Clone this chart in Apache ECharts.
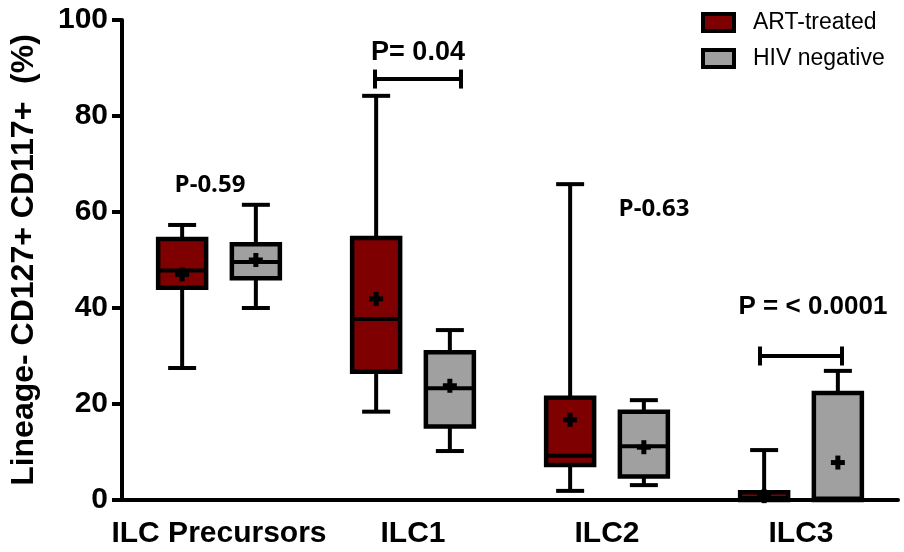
<!DOCTYPE html>
<html><head><meta charset="utf-8">
<script src="https://cdn.jsdelivr.net/npm/echarts@6/dist/echarts.min.js"></script>
<style>html,body{margin:0;padding:0;background:#fff}#c{width:904px;height:552px}</style>
</head><body><div id="c"></div>
<script>
const categories = ['ILC Precursors', 'ILC1', 'ILC2', 'ILC3'];
const yTicks = [0, 20, 40, 60, 80, 100];
// [min, Q1, median, Q3, max]
const artBox = [
  [27.5, 44.2, 47.8, 54.4, 57.3],
  [18.4, 26.7, 37.7, 54.6, 84.2],
  [1.9, 7.3, 9.2, 21.3, 65.8],
  [0, 0, 0.4, 1.6, 10.4]
];
const artMean = [47.0, 41.9, 16.7, 0.8];
const hivBox = [
  [40.0, 46.2, 49.6, 53.3, 61.5],
  [10.2, 15.3, 23.3, 30.8, 35.4],
  [3.1, 4.9, 11.2, 18.4, 20.8],
  [0, 0, 0.3, 22.3, 26.9]
];
const hivMean = [50.0, 23.8, 11.0, 7.8];
const pLabels = ['P-0.59', 'P= 0.04', 'P-0.63', 'P = < 0.0001'];
const pLabelY = [65.6, 93.3, 60.5, 40.2];
const bracketY = [null, 87.7, null, 30.0];

// ---- styling / layout constants ----
const FONT = "'Liberation Sans', Arial, sans-serif";
const labelDx = [-9, 5, 47, 12];
const labelFont = [
  "bold 24px 'Open Sans', sans-serif",
  "bold 27px " + FONT,
  "bold 24px 'Open Sans', sans-serif",
  "bold 26px " + FONT
];
const bracketDx = [null, [-38, 48], null, [-41, 41]];

function boxRender(side) {
  return function (params, api) {
    const band = api.size([1, 0])[0];
    const off = side * band * 0.19;
    const bw = 48;
    const cw = 28;
    const ci = api.value(0);
    const py = k => api.coord([ci, api.value(k)])[1];
    const cx = api.coord([ci, 0])[0] + off;
    const yMin = py(1), yQ1 = py(2), yMed = py(3), yQ3 = py(4), yMax = py(5), yMean = py(6);
    const ls = { stroke: '#000', lineWidth: 4 };
    const color = api.visual('color');
    return {
      type: 'group',
      children: [
        { type: 'line', shape: { x1: cx, y1: yMax, x2: cx, y2: yQ3 }, style: ls },
        { type: 'line', shape: { x1: cx, y1: yQ1, x2: cx, y2: yMin }, style: ls },
        { type: 'line', shape: { x1: cx - cw / 2, y1: yMax, x2: cx + cw / 2, y2: yMax }, style: ls },
        { type: 'line', shape: { x1: cx - cw / 2, y1: yMin, x2: cx + cw / 2, y2: yMin }, style: ls },
        { type: 'rect', shape: { x: cx - bw / 2, y: yQ3, width: bw, height: Math.max(yQ1 - yQ3, 0) },
          style: { fill: color, stroke: '#000', lineWidth: 4.5 } },
        { type: 'line', shape: { x1: cx - bw / 2, y1: yMed, x2: cx + bw / 2, y2: yMed }, style: ls },
        { type: 'line', shape: { x1: cx - 7, y1: yMean, x2: cx + 7, y2: yMean }, style: { stroke: '#000', lineWidth: 5 } },
        { type: 'line', shape: { x1: cx, y1: yMean - 7, x2: cx, y2: yMean + 7 }, style: { stroke: '#000', lineWidth: 5 } }
      ]
    };
  };
}

const bracketData = [];
bracketY.forEach((v, i) => { if (v !== null) bracketData.push([i, v]); });

const chart = echarts.init(document.getElementById('c'), null, { renderer: 'canvas' });
chart.setOption({
  animation: false,
  backgroundColor: '#fff',
  grid: { left: 120, right: 6, top: 20, bottom: 52 },
  legend: {
    orient: 'vertical',
    left: 696, top: 6,
    itemWidth: 31, itemHeight: 17, itemGap: 13,
    icon: 'rect',
    textStyle: { fontFamily: FONT, fontSize: 23, color: '#000', padding: [0, 0, 0, 14], lineHeight: 17 },
    data: [
      { name: 'ART-treated', itemStyle: { color: '#7f0000', borderColor: '#000', borderWidth: 4 } },
      { name: 'HIV negative', itemStyle: { color: '#a0a0a0', borderColor: '#000', borderWidth: 4 } }
    ]
  },
  xAxis: {
    type: 'category',
    data: categories,
    boundaryGap: true,
    axisLine: { lineStyle: { color: '#000', width: 4 } },
    axisTick: { alignWithLabel: true, length: 12, lineStyle: { color: '#000', width: 4 } },
    axisLabel: { color: '#000', fontFamily: FONT, fontWeight: 'bold', fontSize: 30, margin: 19, interval: 0 },
    splitLine: { show: false }
  },
  yAxis: {
    type: 'value',
    min: yTicks[0], max: yTicks[yTicks.length - 1], interval: yTicks[1] - yTicks[0],
    name: 'Lineage- CD127+ CD117+  (%)',
    nameLocation: 'middle', nameRotate: 90, nameGap: 82,
    nameTextStyle: { color: '#000', fontFamily: FONT, fontWeight: 'bold', fontSize: 32 },
    axisLine: { show: true, lineStyle: { color: '#000', width: 4 } },
    axisTick: { show: true, length: 10, lineStyle: { color: '#000', width: 4 } },
    axisLabel: { color: '#000', fontFamily: FONT, fontWeight: 'bold', fontSize: 30, margin: 14 },
    splitLine: { show: false }
  },
  series: [
    {
      name: 'ART-treated', type: 'custom',
      itemStyle: { color: '#7f0000' },
      encode: { x: 0, y: [1, 2, 3, 4, 5, 6] },
      data: categories.map((c, i) => [i].concat(artBox[i], [artMean[i]])),
      renderItem: boxRender(-1)
    },
    {
      name: 'HIV negative', type: 'custom',
      itemStyle: { color: '#a0a0a0' },
      encode: { x: 0, y: [1, 2, 3, 4, 5, 6] },
      data: categories.map((c, i) => [i].concat(hivBox[i], [hivMean[i]])),
      renderItem: boxRender(1)
    },
    {
      name: 'brackets', type: 'custom', silent: true,
      encode: { x: 0, y: 1 },
      data: bracketData,
      renderItem: function (params, api) {
        const ci = api.value(0);
        const p = api.coord([ci, api.value(1)]);
        const dx = bracketDx[ci];
        const x1 = p[0] + dx[0], x2 = p[0] + dx[1], y = p[1];
        const ls = { stroke: '#000', lineWidth: 4 };
        return {
          type: 'group', children: [
            { type: 'line', shape: { x1: x1, y1: y, x2: x2, y2: y }, style: ls },
            { type: 'line', shape: { x1: x1, y1: y - 9.5, x2: x1, y2: y + 9.5 }, style: ls },
            { type: 'line', shape: { x1: x2, y1: y - 9.5, x2: x2, y2: y + 9.5 }, style: ls }
          ]
        };
      }
    },
    {
      name: 'pvalues', type: 'custom', silent: true,
      encode: { x: 0, y: 1 },
      data: pLabelY.map((v, i) => [i, v]),
      renderItem: function (params, api) {
        const ci = api.value(0);
        const p = api.coord([ci, api.value(1)]);
        return {
          type: 'text',
          style: {
            x: p[0] + labelDx[ci], y: p[1],
            text: pLabels[params.dataIndex],
            font: labelFont[ci], fill: '#000',
            align: 'center', verticalAlign: 'middle'
          }
        };
      }
    }
  ]
});
</script>
</body></html>
